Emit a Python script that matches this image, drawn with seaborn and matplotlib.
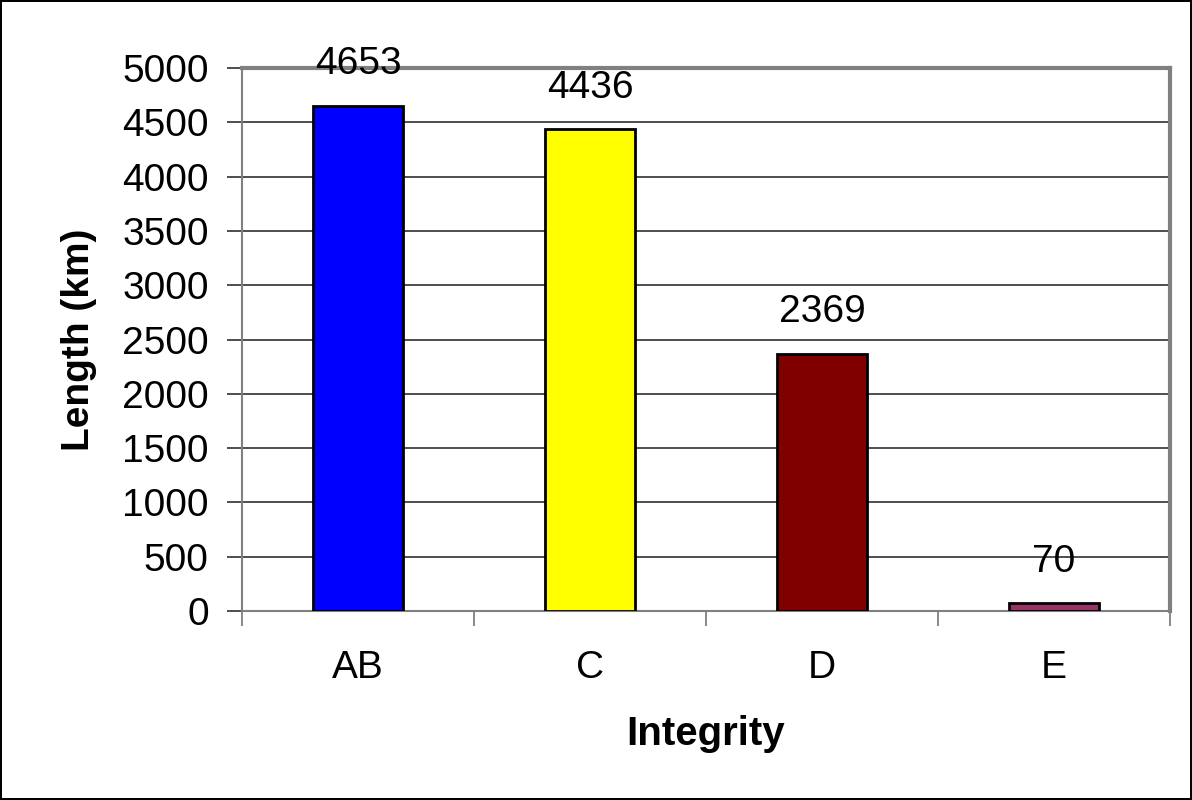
import matplotlib
matplotlib.use("Agg")
import matplotlib.pyplot as plt
import seaborn as sns
import pandas as pd
from matplotlib.ticker import FixedLocator, NullFormatter

categories = ["AB", "C", "D", "E"]
lengths = [4653, 4436, 2369, 70]
colors = ["#0000FF", "#FFFF00", "#800000", "#993366"]
yticks = [0, 500, 1000, 1500, 2000, 2500, 3000, 3500, 4000, 4500, 5000]

sns.set_theme(style="white")
plt.rcParams['font.family'] = ['Liberation Sans', 'DejaVu Sans']
plt.rcParams['text.color'] = 'black'
plt.rcParams['axes.labelcolor'] = 'black'
plt.rcParams['xtick.labelcolor'] = 'black'
plt.rcParams['ytick.labelcolor'] = 'black'

df = pd.DataFrame({"Integrity": categories, "Length": lengths})

fig = plt.figure(figsize=(11.92, 8.0), dpi=100)
fig.patch.set_facecolor("white")
fig.patch.set_edgecolor("black")
fig.patch.set_linewidth(1.5)
ax = fig.add_axes([242/1192, 1 - 611/800, (1170-242)/1192, (611-68)/800])

sns.barplot(data=df, x="Integrity", y="Length", hue="Integrity", palette=colors,
            legend=False, width=0.39, edgecolor="black", linewidth=2.0,
            saturation=1, ax=ax, zorder=3)

ax.set_ylim(0, 5000)
ax.set_xlim(-0.5, len(categories) - 0.5)
ax.set_yticks(yticks)
ax.set_yticklabels([str(v) for v in yticks], fontsize=28, color="black")
ax.yaxis.grid(True, color="#404040", linewidth=1.3, zorder=0)
ax.set_axisbelow(True)

# x ticks: marks at category boundaries, labels at centres
ax.xaxis.set_major_locator(FixedLocator([i - 0.5 for i in range(len(categories) + 1)]))
ax.xaxis.set_major_formatter(NullFormatter())
ax.xaxis.set_minor_locator(FixedLocator(list(range(len(categories)))))
ax.set_xticklabels(categories, minor=True, fontsize=28, color="black")
ax.tick_params(axis="x", which="major", length=11, width=1.3, color="#808080", direction="out", bottom=True)
ax.tick_params(axis="x", which="minor", length=0, pad=28)
ax.tick_params(axis="y", which="major", length=11, width=1.3, color="#404040", direction="out", left=True, pad=13)

for side in ["top", "right"]:
    ax.spines[side].set_color("#808080")
    ax.spines[side].set_linewidth(3)
for side in ["left", "bottom"]:
    ax.spines[side].set_color("#808080")
    ax.spines[side].set_linewidth(1.5)

for i, v in enumerate(lengths):
    ax.annotate(str(v), xy=(i, v), xytext=(0, 17), textcoords="offset points",
                ha="center", va="bottom", fontsize=28, color="black", zorder=5,
                annotation_clip=False)

ax.set_xlabel("Integrity", fontsize=29, fontweight="bold", labelpad=21, color="black")
ax.set_ylabel("Length (km)", fontsize=28, fontweight="bold", labelpad=18, color="black")

fig.savefig("out.png", dpi=100, facecolor=fig.get_facecolor(), edgecolor=fig.get_edgecolor())
